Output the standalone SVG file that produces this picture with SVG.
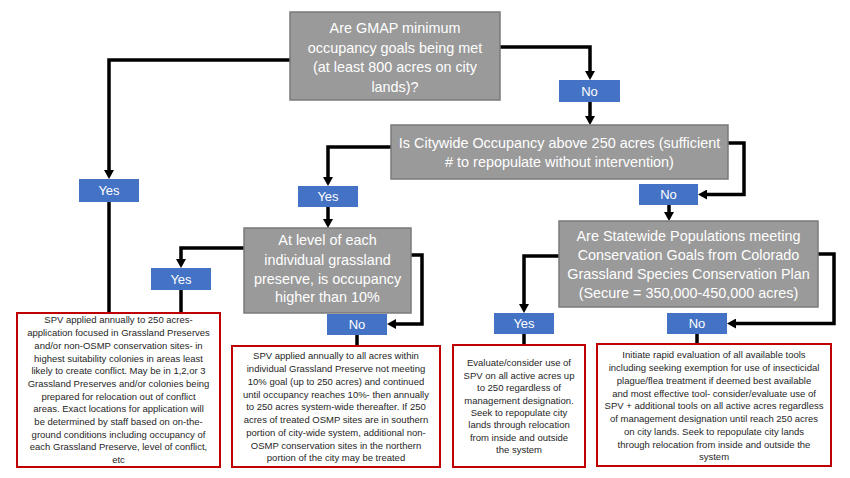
<svg xmlns="http://www.w3.org/2000/svg" width="850" height="478" viewBox="0 0 850 478">
<style>
.q{fill:#9a9a9a;stroke:#7a7a7a;stroke-width:1.5}
.qt{font-family:"Liberation Sans",Arial,sans-serif;font-size:14.4px;fill:#ffffff;text-anchor:middle}
.lb{fill:#4472c4}
.lt{font-family:"Liberation Sans",Arial,sans-serif;font-size:13px;fill:#ffffff;text-anchor:middle}
.r{fill:#ffffff;stroke:#c00000;stroke-width:2}
.rt{font-family:"Liberation Sans",Arial,sans-serif;font-size:9.5px;fill:#262626;text-anchor:middle}
.c{fill:none;stroke:#000000;stroke-width:3.5}
.a{marker-end:url(#ah)}
</style>
<defs>
<marker id="ah" markerUnits="userSpaceOnUse" viewBox="0 0 9 10" refX="3" refY="5" markerWidth="9" markerHeight="10" orient="auto">
<path d="M0,0 L9,5 L0,10 Z" fill="#000000"/>
</marker>
</defs>
<rect width="850" height="478" fill="#ffffff"/>
<g id="connectors">
<path class="c a" d="M290,60 H109 V173"/>
<path class="c" d="M109,202 V313"/>
<path class="c a" d="M500,47 H590 V74"/>
<path class="c a" d="M590,102 V119"/>
<path class="c a" d="M391,147 H328 V180"/>
<path class="c a" d="M328,207 V222"/>
<path class="c a" d="M728,143 H744 V194.5 H704"/>
<path class="c a" d="M669,205 V215"/>
<path class="c a" d="M244,248 H181 V262"/>
<path class="c" d="M181,290 V313"/>
<path class="c a" d="M411,255 H422 V324 H393"/>
<path class="c" d="M357,335 V346"/>
<path class="c a" d="M559,256 H524 V307"/>
<path class="c" d="M524,334 V345"/>
<path class="c a" d="M818,254 H834 V323.5 H733"/>
<path class="c" d="M697,334 V344"/>
</g>
<g id="q1">
<rect class="q" x="290" y="12" width="210" height="88"/>
<text class="qt" x="395" y="33">Are GMAP minimum</text>
<text class="qt" x="395" y="53">occupancy goals being met</text>
<text class="qt" x="395" y="72">(at least 800 acres on city</text>
<text class="qt" x="395" y="92">lands)?</text>
</g>
<g id="q2">
<rect class="q" x="391" y="125" width="337" height="54"/>
<text class="qt" x="559.5" y="148">Is Citywide Occupancy above 250 acres (sufficient</text>
<text class="qt" x="559.5" y="167"># to repopulate without intervention)</text>
</g>
<g id="q3">
<rect class="q" x="244" y="228" width="167" height="85"/>
<text class="qt" x="327.5" y="245">At level of each</text>
<text class="qt" x="327.5" y="265">individual grassland</text>
<text class="qt" x="327.5" y="284">preserve, is occupancy</text>
<text class="qt" x="327.5" y="302">higher than 10%</text>
</g>
<g id="q4">
<rect class="q" x="559" y="221" width="259" height="86"/>
<text class="qt" x="688.5" y="241">Are Statewide Populations meeting</text>
<text class="qt" x="688.5" y="260">Conservation Goals from Colorado</text>
<text class="qt" x="688.5" y="279">Grassland Species Conservation Plan</text>
<text class="qt" x="688.5" y="298">(Secure = 350,000-450,000 acres)</text>
</g>
<g id="yes1"><rect class="lb" x="79" y="179" width="60" height="23"/><text class="lt" x="109" y="195">Yes</text></g>
<g id="no1"><rect class="lb" x="559" y="80" width="61" height="22"/><text class="lt" x="589.5" y="96">No</text></g>
<g id="yes2"><rect class="lb" x="298" y="186" width="60" height="21"/><text class="lt" x="328" y="201">Yes</text></g>
<g id="no2"><rect class="lb" x="639" y="184" width="59" height="21"/><text class="lt" x="668.5" y="199">No</text></g>
<g id="yes3"><rect class="lb" x="151" y="268" width="60" height="22"/><text class="lt" x="181" y="284">Yes</text></g>
<g id="no3"><rect class="lb" x="327" y="314" width="60" height="21"/><text class="lt" x="357" y="329">No</text></g>
<g id="yes4"><rect class="lb" x="494" y="313" width="60" height="21"/><text class="lt" x="524" y="328">Yes</text></g>
<g id="no4"><rect class="lb" x="667" y="313" width="60" height="21"/><text class="lt" x="697" y="328">No</text></g>
<g id="a1">
<rect class="r" x="17" y="313" width="203" height="154"/>
<text class="rt" x="118.5" y="323.4">SPV applied annually to 250 acres-</text>
<text class="rt" x="118.5" y="336.1">application focused in Grassland Preserves</text>
<text class="rt" x="118.5" y="348.8">and/or non-OSMP conservation sites- in</text>
<text class="rt" x="118.5" y="361.5">highest suitability colonies in areas least</text>
<text class="rt" x="118.5" y="374.2">likely to create conflict. May be in 1,2,or 3</text>
<text class="rt" x="118.5" y="386.9">Grassland Preserves and/or colonies being</text>
<text class="rt" x="118.5" y="399.6">prepared for relocation out of conflict</text>
<text class="rt" x="118.5" y="412.3">areas. Exact locations for application will</text>
<text class="rt" x="118.5" y="425.0">be determined by staff based on on-the-</text>
<text class="rt" x="118.5" y="437.7">ground conditions including occupancy of</text>
<text class="rt" x="118.5" y="450.4">each Grassland Preserve, level of conflict,</text>
<text class="rt" x="118.5" y="463.1">etc</text>
</g>
<g id="a2">
<rect class="r" x="232" y="346" width="208" height="121"/>
<text class="rt" x="336" y="359.4">SPV applied annually to all acres within</text>
<text class="rt" x="336" y="372.2">individual Grassland Preserve not meeting</text>
<text class="rt" x="336" y="384.9">10% goal (up to 250 acres) and continued</text>
<text class="rt" x="336" y="397.7">until occupancy reaches 10%- then annually</text>
<text class="rt" x="336" y="410.4">to 250 acres system-wide thereafter. If 250</text>
<text class="rt" x="336" y="423.2">acres of treated OSMP sites are in southern</text>
<text class="rt" x="336" y="435.9">portion of city-wide system, additional non-</text>
<text class="rt" x="336" y="448.7">OSMP conservation sites in the northern</text>
<text class="rt" x="336" y="461.4">portion of the city may be treated</text>
</g>
<g id="a3">
<rect class="r" x="453" y="345" width="132" height="122"/>
<text class="rt" x="519" y="366.4">Evaluate/consider use of</text>
<text class="rt" x="519" y="378.8">SPV on all active acres up</text>
<text class="rt" x="519" y="391.2">to 250 regardless of</text>
<text class="rt" x="519" y="403.6">management designation.</text>
<text class="rt" x="519" y="416.0">Seek to repopulate city</text>
<text class="rt" x="519" y="428.4">lands through relocation</text>
<text class="rt" x="519" y="440.8">from inside and outside</text>
<text class="rt" x="519" y="453.2">the system</text>
</g>
<g id="a4">
<rect class="r" x="597" y="344" width="234" height="122"/>
<text class="rt" x="714" y="358.4">Initiate rapid evaluation of all available tools</text>
<text class="rt" x="714" y="371.2">including seeking exemption for use of insecticidal</text>
<text class="rt" x="714" y="383.9">plague/flea treatment if deemed best available</text>
<text class="rt" x="714" y="396.7">and most effective tool- consider/evaluate use of</text>
<text class="rt" x="714" y="409.4">SPV + additional tools on all active acres regardless</text>
<text class="rt" x="714" y="422.2">of management designation until reach 250 acres</text>
<text class="rt" x="714" y="434.9">on city lands. Seek to repopulate city lands</text>
<text class="rt" x="714" y="447.7">through relocation from inside and outside the</text>
<text class="rt" x="714" y="460.4">system</text>
</g>
</svg>
